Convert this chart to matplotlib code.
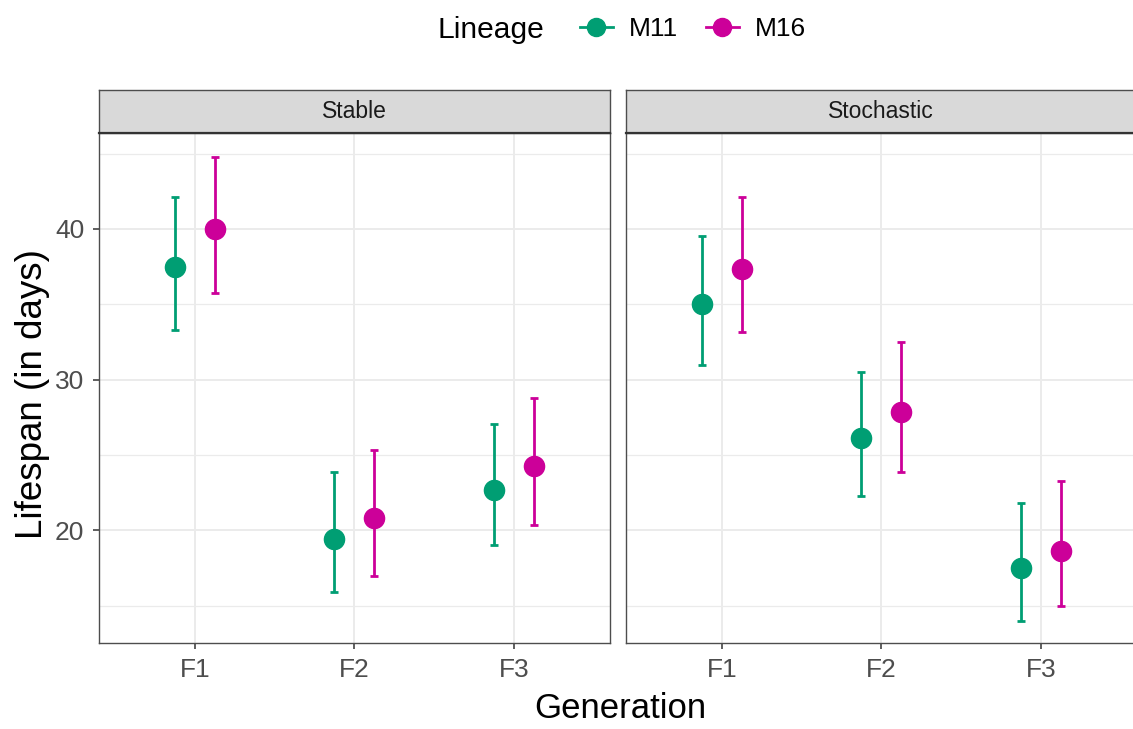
import numpy as np
import matplotlib
matplotlib.use("Agg")
from matplotlib import pyplot as plt
from matplotlib.lines import Line2D

plt.rcParams['font.family'] = ['Liberation Sans', 'DejaVu Sans']

# values
generations = ['F1', 'F2', 'F3']
panels = ['Stable', 'Stochastic']
lineages = ['M11', 'M16']

stable_m11 = [37.5, 19.45, 22.7]
stable_m11_lo = [33.3, 15.9, 19.05]
stable_m11_hi = [42.1, 23.85, 27.05]
stable_m16 = [40.0, 20.8, 24.25]
stable_m16_lo = [35.75, 17.0, 20.35]
stable_m16_hi = [44.8, 25.35, 28.8]

stoch_m11 = [35.0, 26.1, 17.5]
stoch_m11_lo = [30.95, 22.3, 14.0]
stoch_m11_hi = [39.55, 30.5, 21.8]
stoch_m16 = [37.35, 27.85, 18.65]
stoch_m16_lo = [33.15, 23.9, 14.95]
stoch_m16_hi = [42.1, 32.5, 23.3]

colors = {'M11': '#009E73', 'M16': '#CC0099'}

data = {
    'Stable': {'M11': (stable_m11, stable_m11_lo, stable_m11_hi),
               'M16': (stable_m16, stable_m16_lo, stable_m16_hi)},
    'Stochastic': {'M11': (stoch_m11, stoch_m11_lo, stoch_m11_hi),
                   'M16': (stoch_m16, stoch_m16_lo, stoch_m16_hi)},
}

W, H = 1133, 729
fig = plt.figure(figsize=(W / 100, H / 100), dpi=100)

def fx(px):
    return px / W

def fy(py):
    return 1 - py / H

panel_left = [99, 626]
panel_w = 510.7
panel_top, panel_bot = 133.3, 643.3
strip_top = 90

dodge = {'M11': -0.125, 'M16': 0.125}
xpos = np.arange(len(generations)) + 1

for i, name in enumerate(panels):
    ax = fig.add_axes([fx(panel_left[i]), fy(panel_bot), fx(panel_w), (panel_bot - panel_top) / H])
    ax.set_xlim(0.4, 3.6)
    ax.set_ylim(12.5, 46.35)
    ax.set_yticks([20, 30, 40])
    ax.set_yticks([15, 25, 35, 45], minor=True)
    ax.set_xticks(xpos)
    ax.set_xticklabels(generations)
    ax.grid(True, which='major', color='#EBEBEB', lw=1.4, zorder=0)
    ax.grid(True, which='minor', axis='y', color='#EBEBEB', lw=0.9, zorder=0)
    ax.set_axisbelow(True)
    for s in ax.spines.values():
        s.set_color('#4D4D4D')
        s.set_linewidth(1.0)
    ax.tick_params(axis='both', which='major', length=4.5, width=1.1, color='#333333',
                   labelsize=19, labelcolor='#4D4D4D', pad=6)
    ax.tick_params(axis='y', which='minor', length=0)
    if i > 0:
        ax.tick_params(axis='y', which='major', length=0, labelleft=False)

    for lin in lineages:
        mean, lo, hi = data[name][lin]
        mean = np.array(mean)
        err = [mean - np.array(lo), np.array(hi) - mean]
        ax.errorbar(xpos + dodge[lin], mean, yerr=err, fmt='o', color=colors[lin],
                    ms=14.5, elinewidth=2.0, capsize=2.8, capthick=2.0, zorder=3)

    # strip on top of each panel
    sax = fig.add_axes([fx(panel_left[i]), fy(panel_top), fx(panel_w), (panel_top - strip_top) / H])
    sax.set_facecolor('#D9D9D9')
    sax.set_xticks([])
    sax.set_yticks([])
    for s in sax.spines.values():
        s.set_color('#4D4D4D')
        s.set_linewidth(1.0)
    sax.spines['bottom'].set_color('#333333')
    sax.spines['bottom'].set_linewidth(1.6)
    sax.text(0.5, 0.5, name, transform=sax.transAxes, ha='center', va='center',
             fontsize=16.5, color='#1A1A1A')

fig.text(fx(620), fy(718), 'Generation', ha='center', va='baseline', fontsize=25)
fig.text(fx(42), fy(394), 'Lifespan (in days)', rotation=90, rotation_mode='anchor',
         ha='center', va='baseline', fontsize=26.5)

# legend across the top
fig.text(fx(437), fy(38), 'Lineage', ha='left', va='baseline', fontsize=21.6)
handles = [Line2D([], [], color=colors[l], marker='o', ms=13, lw=2.0) for l in lineages]
fig.legend(handles, lineages, loc='center left', bbox_to_anchor=(fx(580), fy(29)),
           ncol=2, frameon=False, fontsize=19, handlelength=1.25, handletextpad=0.6,
           columnspacing=1.05, borderpad=0, borderaxespad=0)

fig.savefig('out.png', dpi=100)
